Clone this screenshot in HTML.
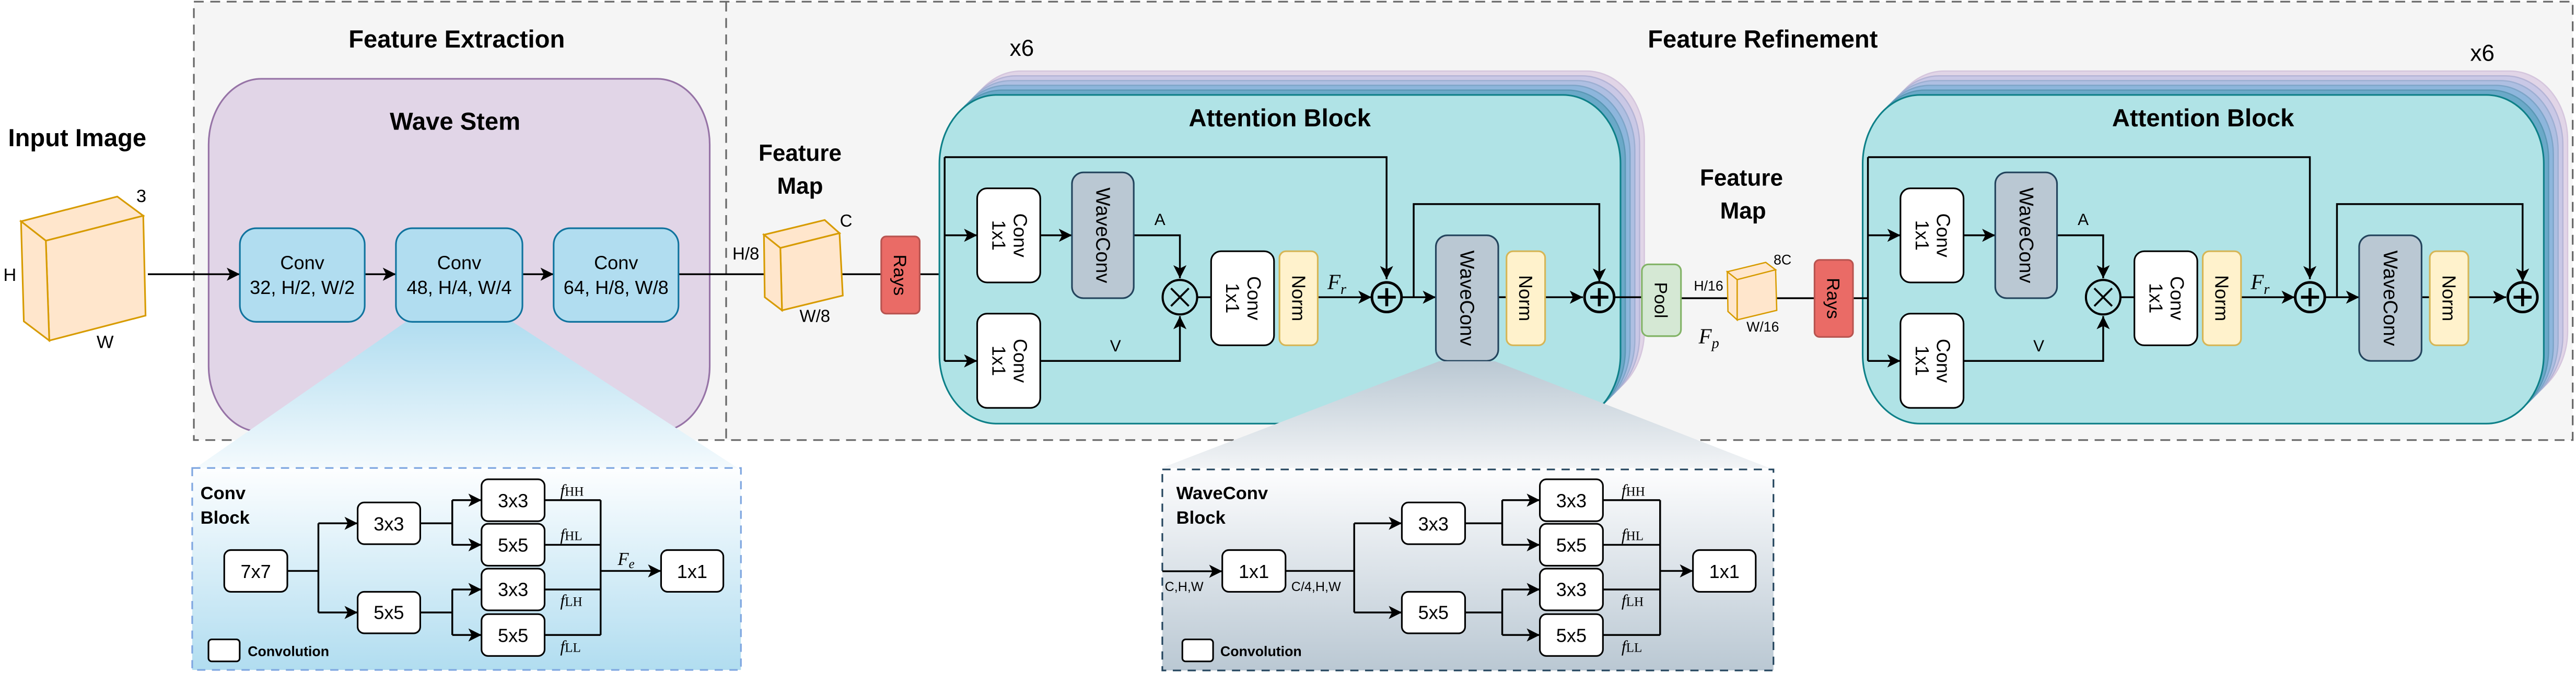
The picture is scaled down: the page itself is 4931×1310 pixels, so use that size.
<!DOCTYPE html>
<html><head><meta charset="utf-8"><style>
html,body{margin:0;padding:0;background:#fff;}
svg{display:block;}
text{font-family:"Liberation Sans",sans-serif;fill:#000;}
.b{font-weight:bold;}
.m{font-family:"Liberation Serif",serif;font-style:italic;}
.ln{fill:none;stroke:#000;stroke-width:1.1;}
</style></head><body>
<svg width="4931" height="1310" viewBox="0 0 1568 416.56" preserveAspectRatio="none" xmlns="http://www.w3.org/2000/svg">
<defs>
<marker id="ar" markerUnits="userSpaceOnUse" markerWidth="9" markerHeight="8" refX="8" refY="4" orient="auto">
<path d="M0,0 L8,4 L0,8 L2,4 z" fill="#000"/>
</marker>
<linearGradient id="gBlue" x1="0" y1="0" x2="0" y2="1"><stop offset="0" stop-color="#fdfeff"/><stop offset="1" stop-color="#b1ddf0"/></linearGradient>
<linearGradient id="gGray" x1="0" y1="0" x2="0" y2="1"><stop offset="0" stop-color="#fdfdfe"/><stop offset="1" stop-color="#bac8d3"/></linearGradient>
<linearGradient id="wBlue" x1="0" y1="0" x2="0" y2="1"><stop offset="0" stop-color="#b1ddf0"/><stop offset="1" stop-color="#f4fafd"/></linearGradient>
<linearGradient id="wGray" x1="0" y1="0" x2="0" y2="1"><stop offset="0" stop-color="#bac8d3"/><stop offset="1" stop-color="#f2f4f6"/></linearGradient>
<g id="att">
<rect x="586.3" y="43.3" width="414.6" height="200.2" rx="35" ry="42" fill="#e1d5e7" stroke="#d5c6dd" stroke-width="0.8"/>
<rect x="583.4" y="46.2" width="414.6" height="200.2" rx="35" ry="42" fill="#c9c8e6" stroke="#b5b5d6" stroke-width="0.8"/>
<rect x="580.5" y="49.1" width="414.6" height="200.2" rx="35" ry="42" fill="#aebfe2" stroke="#9dafd2" stroke-width="0.8"/>
<rect x="577.6" y="52" width="414.6" height="200.2" rx="35" ry="42" fill="#8db6dc" stroke="#7ea5c8" stroke-width="0.8"/>
<rect x="574.7" y="54.9" width="414.6" height="200.2" rx="35" ry="42" fill="#6aa9c8" stroke="#5b98b5" stroke-width="0.8"/>
<rect x="571.8" y="57.8" width="414.6" height="200.2" rx="35" ry="42" fill="#b0e3e6" stroke="#0e8088" stroke-width="1"/>
<text x="779" y="77" class="b" font-size="15" text-anchor="middle">Attention Block</text>
<path class="ln" d="M575,95.7 V219.8"/>
<path class="ln" d="M575,95.7 H844 V170" marker-end="url(#ar)"/>
<path class="ln" d="M575,143.3 H594.8" marker-end="url(#ar)"/>
<path class="ln" d="M575,219.8 H594.8" marker-end="url(#ar)"/>
<path class="ln" d="M633.2,143.3 H652.5" marker-end="url(#ar)"/>
<path class="ln" d="M690.1,143.3 H718.2 V169.5" marker-end="url(#ar)"/>
<path class="ln" d="M633.2,219.8 H718.2 V192.5" marker-end="url(#ar)"/>
<path class="ln" d="M729,181 H737.2"/>
<path class="ln" d="M802.1,181 H834.8" marker-end="url(#ar)"/>
<path class="ln" d="M853.2,181 H874" marker-end="url(#ar)"/>
<path class="ln" d="M860.5,181 V124.3 H973.5 V171.5" marker-end="url(#ar)"/>
<path class="ln" d="M912,181 H917"/>
<path class="ln" d="M940.5,181 H963.5" marker-end="url(#ar)"/>
<rect x="594.8" y="114.7" width="38.4" height="57.3" rx="6" fill="#fff" stroke="#000" stroke-width="1"/>
<text transform="translate(614,143.3) rotate(90)" font-size="11.5" text-anchor="middle"><tspan x="0" y="-3">Conv</tspan><tspan x="0" y="10">1x1</tspan></text>
<rect x="594.8" y="191" width="38.4" height="57.4" rx="6" fill="#fff" stroke="#000" stroke-width="1"/>
<text transform="translate(614,219.7) rotate(90)" font-size="11.5" text-anchor="middle"><tspan x="0" y="-3">Conv</tspan><tspan x="0" y="10">1x1</tspan></text>
<rect x="652.5" y="105" width="37.6" height="76.6" rx="7" fill="#bac8d3" stroke="#23445d" stroke-width="1"/>
<text transform="translate(671.3,143.3) rotate(90)" font-size="12" text-anchor="middle" y="4">WaveConv</text>
<text x="706" y="137" font-size="10" text-anchor="middle">A</text>
<text x="679" y="214" font-size="10" text-anchor="middle">V</text>
<circle cx="718.2" cy="181" r="10.5" fill="none" stroke="#000" stroke-width="1.3"/>
<path d="M712.8,175.6 L723.6,186.4 M723.6,175.6 L712.8,186.4" stroke="#000" stroke-width="1.2"/>
<rect x="737.2" y="153" width="38.3" height="57.3" rx="6" fill="#fff" stroke="#000" stroke-width="1"/>
<text transform="translate(756.3,181.6) rotate(90)" font-size="11.5" text-anchor="middle"><tspan x="0" y="-3">Conv</tspan><tspan x="0" y="10">1x1</tspan></text>
<rect x="778.8" y="153" width="23.3" height="57.3" rx="4" fill="#fff2cc" stroke="#d6b656" stroke-width="1"/>
<text transform="translate(790.5,181.6) rotate(90)" font-size="11.5" text-anchor="middle" y="4">Norm</text>
<text x="808" y="176" class="m" font-size="13">F<tspan font-size="9" dy="3">r</tspan></text>
<circle cx="844.1" cy="181" r="9" fill="none" stroke="#000" stroke-width="1.6"/>
<path d="M838.6,181 H849.6 M844.1,175.5 V186.5" stroke="#000" stroke-width="1.8"/>
<rect x="874" y="143.3" width="38" height="76.5" rx="7" fill="#bac8d3" stroke="#23445d" stroke-width="1"/>
<text transform="translate(893,181.6) rotate(90)" font-size="12" text-anchor="middle" y="4">WaveConv</text>
<rect x="917" y="153" width="23.5" height="57.3" rx="4" fill="#fff2cc" stroke="#d6b656" stroke-width="1"/>
<text transform="translate(928.7,181.6) rotate(90)" font-size="11.5" text-anchor="middle" y="4">Norm</text>
<circle cx="973.5" cy="181" r="9" fill="none" stroke="#000" stroke-width="1.6"/>
<path d="M968,181 H979 M973.5,175.5 V186.5" stroke="#000" stroke-width="1.8"/>
</g>
</defs>

<!-- outer dashed boxes -->
<rect x="118" y="1" width="1448" height="267" fill="#f5f5f5" stroke="#666" stroke-width="1" stroke-dasharray="6,4"/>
<line x1="442" y1="1" x2="442" y2="268" stroke="#666" stroke-width="1" stroke-dasharray="6,4"/>
<text x="278" y="29" class="b" font-size="15" text-anchor="middle">Feature Extraction</text>
<text x="1073" y="29" class="b" font-size="15" text-anchor="middle">Feature Refinement</text>
<text x="47" y="89" class="b" font-size="15" text-anchor="middle">Input Image</text>

<!-- input cube -->
<polygon points="12.8,134.8 71.4,119.7 87.2,131.4 27.9,146.6" fill="#ffe6cc" stroke="#d79b00" stroke-width="1"/>
<polygon points="27.9,146.6 87.2,131.4 88.6,192.2 30,207.4" fill="#ffe6cc" stroke="#d79b00" stroke-width="1"/>
<polygon points="12.8,134.8 27.9,146.6 30,207.4 14.5,195.7" fill="#ffe6cc" stroke="#d79b00" stroke-width="1"/>
<text x="86" y="123" font-size="11" text-anchor="middle">3</text>
<text x="6" y="171" font-size="11" text-anchor="middle">H</text>
<text x="64" y="212" font-size="11" text-anchor="middle">W</text>

<!-- wave stem -->
<rect x="127" y="48" width="305" height="215" rx="32" ry="40" fill="#e1d5e7" stroke="#9673a6" stroke-width="1"/>
<text x="277" y="79" class="b" font-size="15" text-anchor="middle">Wave Stem</text>
<polygon points="247,196 312,196 432,270 117,287 117,287" fill="none"/>
<polygon points="247,196 312,196 449,285 119,285" fill="url(#wBlue)"/>

<path class="ln" d="M90,167 H146" marker-end="url(#ar)"/>
<path class="ln" d="M222,167 H241" marker-end="url(#ar)"/>
<path class="ln" d="M318,167 H337" marker-end="url(#ar)"/>
<path class="ln" d="M413,167 H536.4"/>
<g font-size="11.5" text-anchor="middle">
<rect x="146" y="139" width="76" height="57" rx="10" fill="#b1ddf0" stroke="#10739e" stroke-width="1"/>
<text x="184" y="164">Conv</text><text x="184" y="179">32, H/2, W/2</text>
<rect x="241" y="139" width="77" height="57" rx="10" fill="#b1ddf0" stroke="#10739e" stroke-width="1"/>
<text x="279.5" y="164">Conv</text><text x="279.5" y="179">48, H/4, W/4</text>
<rect x="337" y="139" width="76" height="57" rx="10" fill="#b1ddf0" stroke="#10739e" stroke-width="1"/>
<text x="375" y="164">Conv</text><text x="375" y="179">64, H/8, W/8</text>
</g>

<!-- feature map 1 -->
<text x="487" y="98" class="b" font-size="14" text-anchor="middle">Feature</text>
<text x="487" y="118" class="b" font-size="14" text-anchor="middle">Map</text>
<text x="454" y="158" font-size="10.5" text-anchor="middle">H/8</text>
<polygon points="465,143 502,134 511,142 475,151" fill="#ffe6cc" stroke="#d79b00" stroke-width="1"/>
<polygon points="475,151 511,142 513,180 476,189" fill="#ffe6cc" stroke="#d79b00" stroke-width="1"/>
<polygon points="465,143 475,151 476,189 465.5,181" fill="#ffe6cc" stroke="#d79b00" stroke-width="1"/>
<text x="515" y="138" font-size="10.5" text-anchor="middle">C</text>
<text x="496" y="196" font-size="10.5" text-anchor="middle">W/8</text>

<text x="622" y="34" font-size="14" text-anchor="middle">x6</text>
<text x="1511" y="37" font-size="14" text-anchor="middle">x6</text>

<!-- Rays 1 -->
<path class="ln" d="M559.8,167 H575"/>
<rect x="536.4" y="144" width="23.4" height="47" rx="3" fill="#ea6b66" stroke="#b85450" stroke-width="1"/>
<text transform="translate(548.1,167.5) rotate(90)" font-size="11" text-anchor="middle" y="4">Rays</text>

<use href="#att"/>
<use href="#att" transform="translate(562,0)"/>

<!-- pool etc -->
<path class="ln" d="M983,181 H999.4"/>
<path class="ln" d="M1023.2,181.6 H1104.5"/>
<path class="ln" d="M1127.9,181.6 H1137"/>
<rect x="999.4" y="161" width="23.8" height="43.7" rx="4" fill="#d5e8d4" stroke="#82b366" stroke-width="1"/>
<text transform="translate(1011.3,182.8) rotate(90)" font-size="11" text-anchor="middle" y="4">Pool</text>
<text x="1040" y="177" font-size="8.5" text-anchor="middle">H/16</text>
<polygon points="1051.4,165.5 1074.8,159.8 1080.8,164.3 1057.4,170.3" fill="#ffe6cc" stroke="#d79b00" stroke-width="0.8"/>
<polygon points="1057.4,170.3 1080.8,164.3 1081.5,189 1057.4,194.8" fill="#ffe6cc" stroke="#d79b00" stroke-width="0.8"/>
<polygon points="1051.4,165.5 1057.4,170.3 1057.4,194.8 1051.8,189.7" fill="#ffe6cc" stroke="#d79b00" stroke-width="0.8"/>
<text x="1085" y="161" font-size="8.5" text-anchor="middle">8C</text>
<text x="1073" y="202" font-size="8.5" text-anchor="middle">W/16</text>
<text x="1034" y="209" class="m" font-size="13">F<tspan font-size="9" dy="3">p</tspan></text>
<text x="1060" y="113" class="b" font-size="14" text-anchor="middle">Feature</text>
<text x="1061" y="133" class="b" font-size="14" text-anchor="middle">Map</text>
<rect x="1104.5" y="158.3" width="23.4" height="46.9" rx="3" fill="#ea6b66" stroke="#b85450" stroke-width="1"/>
<text transform="translate(1116.2,181.7) rotate(90)" font-size="11" text-anchor="middle" y="4">Rays</text>

<!-- WaveConv wedge -->
<polygon points="876,220 910,220 1077,285 707,285" fill="url(#wGray)"/>

<!-- Conv Block -->
<rect x="117" y="285" width="334" height="123" fill="url(#gBlue)" stroke="#7ea6e0" stroke-width="1" stroke-dasharray="5,4"/>
<text x="122" y="304" class="b" font-size="11">Conv</text>
<text x="122" y="319" class="b" font-size="11">Block</text>
<g font-size="11.5" text-anchor="middle">
<path class="ln" d="M174.9,347.7 H193.8 M193.8,318.7 V373"/>
<path class="ln" d="M193.8,318.7 H217.7" marker-end="url(#ar)"/>
<path class="ln" d="M193.8,373 H217.7" marker-end="url(#ar)"/>
<path class="ln" d="M255.8,318.7 H275.3 M275.3,304.6 V331.8 M255.8,373 H275.3 M275.3,359 V386.7"/>
<path class="ln" d="M275.3,304.6 H293.1" marker-end="url(#ar)"/>
<path class="ln" d="M275.3,331.8 H293.1" marker-end="url(#ar)"/>
<path class="ln" d="M275.3,359 H293.1" marker-end="url(#ar)"/>
<path class="ln" d="M275.3,386.7 H293.1" marker-end="url(#ar)"/>
<path class="ln" d="M331.5,304.6 H365.6 M331.5,331.8 H365.6 M331.5,359 H365.6 M331.5,386.7 H365.6 M365.6,304.6 V386.7"/>
<path class="ln" d="M365.6,347.7 H402.4" marker-end="url(#ar)"/>
<rect x="136.5" y="335" width="38.4" height="25.4" rx="4" fill="#fff" stroke="#000"/><text x="155.7" y="352">7x7</text>
<rect x="217.7" y="306" width="38.1" height="25.4" rx="4" fill="#fff" stroke="#000"/><text x="236.7" y="323">3x3</text>
<rect x="217.7" y="360.4" width="38.1" height="25.3" rx="4" fill="#fff" stroke="#000"/><text x="236.7" y="377">5x5</text>
<rect x="293.1" y="291.9" width="38.4" height="25.5" rx="4" fill="#fff" stroke="#000"/><text x="312.3" y="309">3x3</text>
<rect x="293.1" y="319" width="38.4" height="25.5" rx="4" fill="#fff" stroke="#000"/><text x="312.3" y="336">5x5</text>
<rect x="293.1" y="346.3" width="38.4" height="25.4" rx="4" fill="#fff" stroke="#000"/><text x="312.3" y="363">3x3</text>
<rect x="293.1" y="374" width="38.4" height="25.5" rx="4" fill="#fff" stroke="#000"/><text x="312.3" y="391">5x5</text>
<rect x="402.4" y="335" width="37.9" height="25.4" rx="4" fill="#fff" stroke="#000"/><text x="421.3" y="352">1x1</text>
</g>
<g class="m" font-size="10">
<text x="341" y="302" class="m">f<tspan font-style="normal" font-size="8">HH</tspan></text>
<text x="341" y="329" class="m">f<tspan font-style="normal" font-size="8">HL</tspan></text>
<text x="341" y="369" class="m">f<tspan font-style="normal" font-size="8">LH</tspan></text>
<text x="341" y="397" class="m">f<tspan font-style="normal" font-size="8">LL</tspan></text>
<text x="376" y="344" class="m" font-size="11">F<tspan font-size="8" dy="2">e</tspan></text>
</g>
<rect x="126.9" y="389.4" width="19" height="13.4" rx="2" fill="#fff" stroke="#000"/>
<text x="150.8" y="399.5" class="b" font-size="8.5">Convolution</text>

<!-- WaveConv Block -->
<rect x="707.5" y="285.9" width="372" height="122.4" fill="url(#gGray)" stroke="#23445d" stroke-width="1" stroke-dasharray="5,4"/>
<text x="716" y="304" class="b" font-size="11">WaveConv</text>
<text x="716" y="319" class="b" font-size="11">Block</text>
<g font-size="11.5" text-anchor="middle">
<path class="ln" d="M707.5,347.9 H744" marker-end="url(#ar)"/>
<path class="ln" d="M782.5,347.7 H824.3 M824.3,318.7 V373"/>
<path class="ln" d="M824.3,318.7 H853.3" marker-end="url(#ar)"/>
<path class="ln" d="M824.3,373 H853.3" marker-end="url(#ar)"/>
<path class="ln" d="M891.8,318.7 H914.4 M914.4,304.6 V331.8 M891.8,373 H914.4 M914.4,359 V386.7"/>
<path class="ln" d="M914.4,304.6 H937.3" marker-end="url(#ar)"/>
<path class="ln" d="M914.4,331.8 H937.3" marker-end="url(#ar)"/>
<path class="ln" d="M914.4,359 H937.3" marker-end="url(#ar)"/>
<path class="ln" d="M914.4,386.7 H937.3" marker-end="url(#ar)"/>
<path class="ln" d="M975.7,304.6 H1010.5 M975.7,331.8 H1010.5 M975.7,359 H1010.5 M975.7,386.7 H1010.5 M1010.5,304.6 V386.7"/>
<path class="ln" d="M1010.5,347.7 H1030.5" marker-end="url(#ar)"/>
<rect x="744" y="335" width="38.5" height="25.4" rx="4" fill="#fff" stroke="#000"/><text x="763.2" y="352">1x1</text>
<rect x="853.3" y="306" width="38.5" height="25.4" rx="4" fill="#fff" stroke="#000"/><text x="872.5" y="323">3x3</text>
<rect x="853.3" y="360.4" width="38.5" height="25.3" rx="4" fill="#fff" stroke="#000"/><text x="872.5" y="377">5x5</text>
<rect x="937.3" y="291.9" width="38.4" height="25.5" rx="4" fill="#fff" stroke="#000"/><text x="956.5" y="309">3x3</text>
<rect x="937.3" y="319" width="38.4" height="25.5" rx="4" fill="#fff" stroke="#000"/><text x="956.5" y="336">5x5</text>
<rect x="937.3" y="346.3" width="38.4" height="25.4" rx="4" fill="#fff" stroke="#000"/><text x="956.5" y="363">3x3</text>
<rect x="937.3" y="374" width="38.4" height="25.5" rx="4" fill="#fff" stroke="#000"/><text x="956.5" y="391">5x5</text>
<rect x="1030.5" y="335" width="38.2" height="25.4" rx="4" fill="#fff" stroke="#000"/><text x="1049.6" y="352">1x1</text>
</g>
<text x="709" y="360" font-size="8">C,H,W</text>
<text x="786" y="360" font-size="8">C/4,H,W</text>
<g font-size="10">
<text x="987" y="302" class="m">f<tspan font-style="normal" font-size="8">HH</tspan></text>
<text x="987" y="329" class="m">f<tspan font-style="normal" font-size="8">HL</tspan></text>
<text x="987" y="369" class="m">f<tspan font-style="normal" font-size="8">LH</tspan></text>
<text x="987" y="397" class="m">f<tspan font-style="normal" font-size="8">LL</tspan></text>
</g>
<rect x="719.7" y="389.4" width="18.7" height="13.4" rx="2" fill="#fff" stroke="#000"/>
<text x="742.8" y="399.5" class="b" font-size="8.5">Convolution</text>
</svg>
</body></html>
